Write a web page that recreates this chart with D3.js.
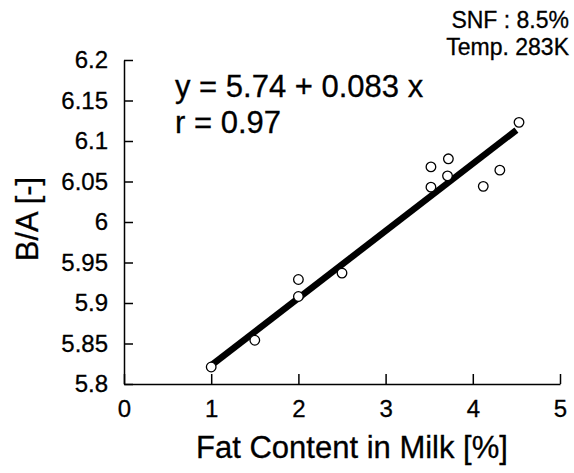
<!DOCTYPE html>
<html>
<head>
<meta charset="utf-8">
<script src="https://cdn.jsdelivr.net/npm/d3@7"></script>
<style>
  body { margin: 0; background: #fff; }
  text { font-family: "Liberation Sans", Arial, Helvetica, sans-serif; fill: #000; }
</style>
</head>
<body>
<div id="chart"></div>
<script>
var width = 574
var height = 473

// measured points
var fatContent = [1.0, 1.5, 2.0, 2.0, 2.5, 3.52, 3.52, 3.71, 3.72, 4.12, 4.31, 4.53]
var ratioBA = [5.821, 5.854, 5.929, 5.908, 5.937, 6.068, 6.043, 6.057, 6.078, 6.044, 6.064, 6.123]

// fitted line  y = a + b x
var fitA = 5.74
var fitB = 0.083
var fitRange = [1.0, 4.5]

var xTicks = [0, 1, 2, 3, 4, 5]
var yTicks = [5.8, 5.85, 5.9, 5.95, 6, 6.05, 6.1, 6.15, 6.2]

var x = d3.scaleLinear().domain([0, 5]).range([124, 560])
var y = d3.scaleLinear().domain([5.8, 6.2]).range([384, 60])

var svg = d3.select('#chart').append('svg')
    .attr('width', width)
    .attr('height', height)

// axes
var yAxis = d3.axisLeft(y)
    .tickValues(yTicks)
    .tickFormat(d3.format('~g'))
    .tickSizeInner(-9)
    .tickSizeOuter(0)
    .tickPadding(16)

var xAxis = d3.axisBottom(x)
    .tickValues(xTicks)
    .tickFormat(d3.format('d'))
    .tickSizeInner(-10)
    .tickSizeOuter(0)
    .tickPadding(16)

var gy = svg.append('g')
    .attr('transform', 'translate(' + x(0) + ',0)')
    .call(yAxis)

var gx = svg.append('g')
    .attr('transform', 'translate(0,' + y(5.8) + ')')
    .call(xAxis)

svg.selectAll('.domain, .tick line')
    .attr('stroke', '#000')
    .attr('stroke-width', 1.5)

svg.selectAll('.tick text')
    .attr('font-size', 24)
    .attr('fill', '#000')
    .attr('stroke', '#000')
    .attr('stroke-width', 0.3)
    .style('font-family', '"Liberation Sans", Arial, sans-serif')

// fit line
var lineData = fitRange.map(function(v) { return [v, fitA + fitB * v] })
svg.append('path')
    .attr('d', d3.line().x(d => x(d[0])).y(d => y(d[1]))(lineData))
    .attr('stroke', '#000')
    .attr('stroke-width', 6.5)
    .attr('fill', 'none')

// points
svg.selectAll('circle.pt')
    .data(fatContent.map((v, i) => [v, ratioBA[i]]))
    .enter().append('circle')
    .attr('class', 'pt')
    .attr('cx', d => x(d[0]))
    .attr('cy', d => y(d[1]))
    .attr('r', 4.8)
    .attr('fill', '#fff')
    .attr('stroke', '#000')
    .attr('stroke-width', 1.3)

var label = function(t) {
    return t.attr('stroke', '#000').attr('stroke-width', 0.3)
}

// titles
svg.append('text')
    .attr('x', 352)
    .attr('y', 458)
    .attr('text-anchor', 'middle')
    .attr('font-size', 31)
    .call(label)
    .text('Fat Content in Milk [%]')

svg.append('text')
    .attr('transform', 'translate(38,219) rotate(-90)')
    .attr('text-anchor', 'middle')
    .attr('font-size', 31)
    .call(label)
    .text('B/A [-]')

// annotation
svg.append('text')
    .attr('x', 175)
    .attr('y', 97)
    .attr('font-size', 31)
    .call(label)
    .text('y = 5.74 + 0.083 x')

svg.append('text')
    .attr('x', 175)
    .attr('y', 133)
    .attr('font-size', 31)
    .call(label)
    .text('r = 0.97')

svg.append('text')
    .attr('x', 569)
    .attr('y', 28)
    .attr('text-anchor', 'end')
    .attr('font-size', 23)
    .call(label)
    .text('SNF : 8.5%')

svg.append('text')
    .attr('x', 569)
    .attr('y', 55)
    .attr('text-anchor', 'end')
    .attr('font-size', 23)
    .call(label)
    .text('Temp. 283K')
</script>
</body>
</html>
